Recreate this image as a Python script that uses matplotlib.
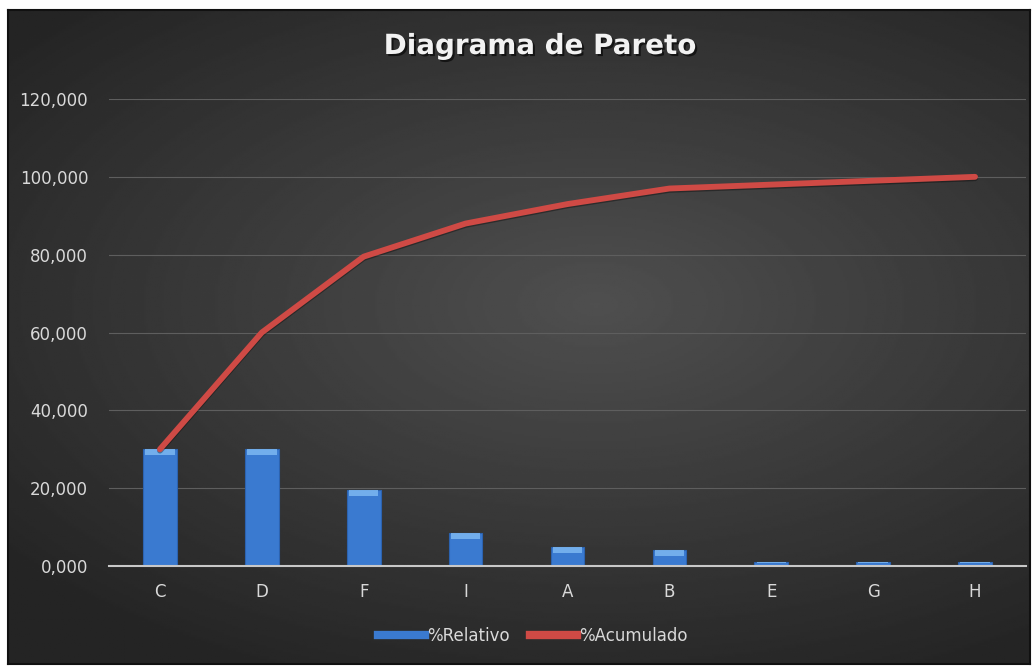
import numpy as np
import matplotlib
matplotlib.use("Agg")
import matplotlib.pyplot as plt
from matplotlib.ticker import FuncFormatter, MultipleLocator
from matplotlib.lines import Line2D
import matplotlib.patheffects as pe

categorias = ["C", "D", "F", "I", "A", "B", "E", "G", "H"]
relativo = [30.0, 30.0, 19.5, 8.5, 5.0, 4.0, 1.0, 1.0, 1.0]
acumulado = [30.0, 60.0, 79.5, 88.0, 93.0, 97.0, 98.0, 99.0, 100.0]

W, H = 1036, 666
fig = plt.figure(figsize=(W / 100, H / 100), dpi=100, facecolor="white")

# fondo oscuro con degradado radial
bg = fig.add_axes([8 / W, 1 - 664 / H, 1022 / W, 654 / H])
yy, xx = np.mgrid[-1:1:300j, -1:1:500j]
r = np.sqrt(((xx - 0.15) * 0.8) ** 2 + ((yy + 0.1) * 0.95) ** 2)
gris = 0.31 - 0.14 * np.clip(r, 0, 1.2)
bg.imshow(gris, cmap="gray", vmin=0, vmax=1, aspect="auto", extent=[0, 1, 0, 1])
bg.set_xticks([])
bg.set_yticks([])
for s in bg.spines.values():
    s.set_color("#111111")
    s.set_linewidth(1.5)

ax = fig.add_axes([109 / W, 1 - 566 / H, 917 / W, 467 / H])
ax.patch.set_alpha(0)
x = np.arange(len(categorias))

ax.bar(x, relativo, width=0.33, color="#3a7ad0", edgecolor="#2c63b0",
       linewidth=0.8, zorder=3)
# brillo en la parte superior de cada barra
tapa = [min(1.6, v * 0.35) for v in relativo]
ax.bar(x, tapa, bottom=[v - t for v, t in zip(relativo, tapa)], width=0.29,
       color="#7db8f2", linewidth=0, zorder=4, alpha=0.85)

ax.plot(x, acumulado, color="#cf4a45", linewidth=4.2, solid_capstyle="round",
        zorder=5, path_effects=[pe.SimpleLineShadow(offset=(0, -1), shadow_color="#000000", alpha=0.35),
                                pe.Normal()])

ax.set_xlim(-0.5, len(categorias) - 0.5)
ax.set_ylim(0, 120)
ax.yaxis.set_major_locator(MultipleLocator(20))
ax.yaxis.set_major_formatter(FuncFormatter(lambda v, p: f"{v:,.3f}".replace(".", ",")))
ax.set_xticks(x)
ax.set_xticklabels(categorias)
ax.grid(axis="y", color="#5e5e5e", linewidth=0.8, zorder=0)
for s in ["top", "right", "left"]:
    ax.spines[s].set_visible(False)
ax.spines["bottom"].set_color("#c8c8c8")
ax.spines["bottom"].set_linewidth(1.5)
ax.spines["bottom"].set_zorder(6)
ax.tick_params(length=0, colors="#d9d9d9", labelsize=12)
ax.tick_params(axis="x", pad=12)
ax.tick_params(axis="y", pad=15)
for t in ax.get_xticklabels() + ax.get_yticklabels():
    t.set_fontfamily("DejaVu Sans")

fig.text(540 / W, 1 - 46 / H, "Diagrama de Pareto", ha="center", va="center",
         fontsize=20, fontweight="bold", family="DejaVu Sans", color="#f2f2f2",
         path_effects=[pe.withSimplePatchShadow(offset=(1.5, -1.5), shadow_rgbFace="#000000", alpha=0.6)])

handles = [Line2D([], [], color="#3a7ad0", linewidth=6),
           Line2D([], [], color="#cf4a45", linewidth=6)]
leg = fig.legend(handles, ["%Relativo", "%Acumulado"], loc="center",
                 bbox_to_anchor=(533 / W, 1 - 636 / H), ncol=2, frameon=False,
                 handlelength=2.8, handletextpad=0.15, columnspacing=1.2,
                 prop={"family": "DejaVu Sans", "size": 12})
for t in leg.get_texts():
    t.set_color("#d9d9d9")

fig.savefig("out.png", dpi=100, facecolor="white")
